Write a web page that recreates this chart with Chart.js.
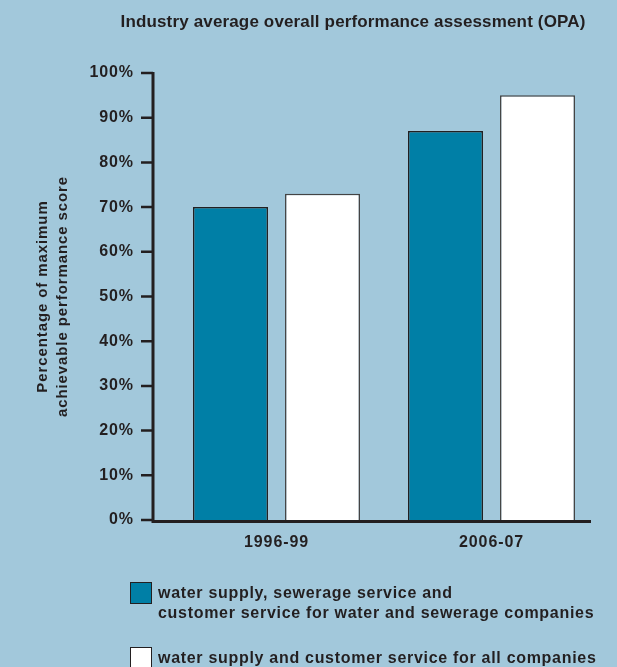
<!DOCTYPE html>
<html>
<head>
<meta charset="utf-8">
<script src="https://cdn.jsdelivr.net/npm/chart.js@4/dist/chart.umd.min.js"></script>
<style>
  html, body { margin: 0; padding: 0; background: #a2c8db; }
  #wrap { position: relative; width: 617px; height: 667px; overflow: hidden; }
  canvas { position: absolute; left: 0; top: 0; }
  .leg { position: absolute; left: 130px; font: bold 16px "Liberation Sans", Arial, sans-serif; color: #231f20; letter-spacing: 0.7px; }
  .leg .box { position: absolute; left: 0; top: -1px; width: 20px; height: 20px; border: 1.5px solid #231f20; }
  .leg .txt { position: absolute; left: 28px; top: 0; white-space: nowrap; line-height: 20px; }
</style>
</head>
<body>
<div id="wrap">
  <canvas id="c" width="617" height="667"></canvas>
  <div id="legend"></div>
</div>
<script>
const chartTitle = "Industry average overall performance assessment (OPA)";
const yAxisTitle = ["Percentage of maximum", "achievable performance score"];
const categories = ["1996-99", "2006-07"];
const seriesLabels = [
  ["water supply, sewerage service and", "customer service for water and sewerage companies"],
  ["water supply and customer service for all companies"]
];
const waterSewerage = [70, 87];
const allCompanies = [73, 95];
const seriesColors = ["#007fa6", "#ffffff"];
const yTicks = [0, 10, 20, 30, 40, 50, 60, 70, 80, 90, 100];

const INK = "#231f20";
const FONT = '"Liberation Sans", Arial, sans-serif';

const axesPlugin = {
  id: 'axesPlugin',
  beforeDraw(chart) {
    chart.ctx.letterSpacing = '0.9px';
  },
  beforeDatasetsDraw(chart) {
    chart.ctx.letterSpacing = '0px';
  },
  afterDatasetsDraw(chart) {
    const ctx = chart.ctx;
    const y = chart.scales.y;
    const axisX = 153;
    const y0 = y.getPixelForValue(0);
    const yTop = y.getPixelForValue(100);
    ctx.save();
    ctx.strokeStyle = INK;
    ctx.lineWidth = 2.5;
    ctx.beginPath();
    yTicks.forEach(v => {
      const py = y.getPixelForValue(v);
      ctx.moveTo(141, py);
      ctx.lineTo(axisX, py);
    });
    ctx.stroke();
    ctx.lineWidth = 3;
    ctx.beginPath();
    ctx.moveTo(axisX, yTop - 1);
    ctx.lineTo(axisX, y0 + 1.5);
    ctx.lineTo(591, y0 + 1.5);
    ctx.stroke();
    ctx.restore();
  },
  afterDraw(chart) {
    const ctx = chart.ctx;
    ctx.save();
    ctx.letterSpacing = '0.15px';
    ctx.fillStyle = INK;
    ctx.font = 'bold 17px ' + FONT;
    ctx.textAlign = 'center';
    ctx.textBaseline = 'middle';
    ctx.fillText(chartTitle, 353, 22);
    ctx.restore();
  }
};

const chart = new Chart(document.getElementById('c'), {
  type: 'bar',
  data: {
    labels: categories,
    datasets: [
      { label: seriesLabels[0].join(' '), data: waterSewerage, backgroundColor: seriesColors[0], borderColor: INK, borderWidth: 1.5 },
      { label: seriesLabels[1].join(' '), data: allCompanies, backgroundColor: seriesColors[1], borderColor: "#444", borderWidth: 1.5 }
    ]
  },
  options: {
    responsive: false,
    animation: false,
    devicePixelRatio: 1,
    categoryPercentage: 0.856,
    barPercentage: 0.815,
    layout: { padding: { top: 73, left: 0, right: 18, bottom: 107 } },
    plugins: {
      legend: { display: false },
      title: { display: false },
      tooltip: { enabled: false }
    },
    scales: {
      x: {
        grid: { display: false },
        border: { display: false },
        ticks: { color: INK, font: { family: FONT, size: 16, weight: 'bold' }, padding: 5 },
        afterFit(s) { s.height = 40; }
      },
      y: {
        min: 0, max: 100,
        grid: { display: false },
        border: { display: false },
        afterBuildTicks(s) { s.ticks = yTicks.map(v => ({ value: v })); },
        ticks: {
          color: INK,
          font: { family: FONT, size: 16, weight: 'bold' },
          padding: 27,
          callback: v => v + '%'
        },
        title: {
          display: true,
          text: yAxisTitle,
          color: INK,
          font: { family: FONT, size: 15, weight: 'bold', lineHeight: 1.333 },
          padding: { top: 33, bottom: 0 }
        },
        afterFit(s) { s.width = 169; }
      }
    }
  },
  plugins: [axesPlugin]
});

// HTML legend built from dataset styling
const legendTops = [583, 648];
const legendEl = document.getElementById('legend');
chart.data.datasets.forEach((ds, i) => {
  const item = document.createElement('div');
  item.className = 'leg';
  item.style.top = legendTops[i] + 'px';
  const box = document.createElement('div');
  box.className = 'box';
  box.style.background = ds.backgroundColor;
  const txt = document.createElement('div');
  txt.className = 'txt';
  txt.innerHTML = seriesLabels[i].join('<br>');
  item.appendChild(box);
  item.appendChild(txt);
  legendEl.appendChild(item);
});
</script>
</body>
</html>
